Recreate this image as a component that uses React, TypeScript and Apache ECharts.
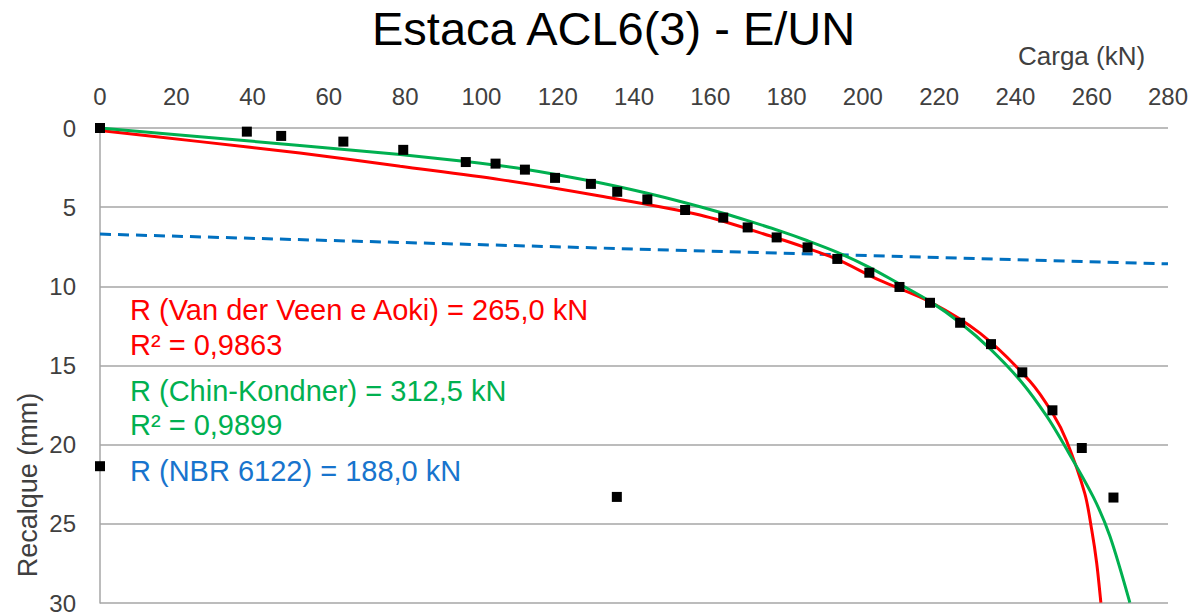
import React, { useEffect, useRef } from "react";
import * as echarts from "echarts";

const xTicks = [0, 20, 40, 60, 80, 100, 120, 140, 160, 180, 200, 220, 240, 260, 280];
const yTicks = [0, 5, 10, 15, 20, 25, 30];

// Measured load test points [carga kN, recalque mm]
const ensaio: [number, number][] = [
  [0, 0], [38.5, 0.23], [47.5, 0.5], [63.8, 0.86], [79.5, 1.38], [95.9, 2.15],
  [103.7, 2.25], [111.4, 2.63], [119.3, 3.15], [128.7, 3.53], [135.6, 4.03],
  [143.5, 4.51], [153.4, 5.18], [163.4, 5.66], [169.8, 6.28], [177.4, 6.91],
  [185.5, 7.54], [193.3, 8.27], [201.7, 9.14], [209.6, 10.04], [217.6, 11.04],
  [225.5, 12.3], [233.6, 13.65], [241.8, 15.43], [249.7, 17.83], [257.4, 20.21],
  [265.7, 23.34], [0, 21.36], [135.5, 23.3],
];

// Van der Veen e Aoki curve
const vanDerVeen: [number, number][] = [
  [0, 0.16], [26.2, 0.86], [52.4, 1.58], [78.7, 2.42], [104.9, 3.26], [131.1, 4.3],
  [157.3, 5.5], [177.4, 6.95], [185.5, 7.6], [193.3, 8.3], [204.5, 9.63],
  [217.6, 10.98], [230.7, 12.96], [243.8, 15.99], [249.9, 18.08], [253.4, 19.75],
  [258.2, 23.09], [260.0, 25.38], [261.3, 27.47], [262.4, 29.98],
];

// Chin-Kondner curve
const chinKondner: [number, number][] = [
  [0, 0], [26.2, 0.55], [52.4, 1.1], [78.7, 1.68], [95.9, 2.12], [111.4, 2.6],
  [128.7, 3.35], [143.5, 4.12], [153.4, 4.72], [163.4, 5.38], [169.8, 5.85],
  [178.2, 6.5], [185.5, 7.12], [193.3, 7.85], [201.7, 8.8], [209.6, 9.85],
  [217.6, 10.95], [225.5, 12.3], [233.6, 14.0], [241.8, 16.1], [248.2, 18.2],
  [252.5, 19.9], [260.4, 23.3], [264.8, 25.8], [270.0, 29.98],
];

// NBR 6122 line
const nbr6122: [number, number][] = [[0, 6.7], [280, 8.58]];

const labels = [
  { text: "R (Van der Veen e Aoki) = 265,0 kN", color: "#ff0000", y: 310 },
  { text: "R² = 0,9863", color: "#ff0000", y: 345 },
  { text: "R (Chin-Kondner) = 312,5 kN", color: "#00b050", y: 391 },
  { text: "R² = 0,9899", color: "#00b050", y: 425 },
  { text: "R (NBR 6122) = 188,0 kN", color: "#1874cd", y: 471 },
];

const FONT = "'Liberation Sans', Arial, sans-serif";

export default function App() {
  const ref = useRef<HTMLDivElement>(null);
  useEffect(() => {
    if (!ref.current) return;
    const chart = echarts.init(ref.current, undefined, { renderer: "svg" });
    chart.setOption({
      animation: false,
      backgroundColor: "#ffffff",
      textStyle: { fontFamily: FONT },
      title: {
        text: "Estaca ACL6(3) - E/UN",
        left: 367,
        top: 0,
        textStyle: { fontSize: 47, fontWeight: "normal", color: "#000", fontFamily: FONT },
      },
      grid: { left: 100, top: 128, right: 27, bottom: 8, containLabel: false },
      xAxis: {
        type: "value",
        position: "top",
        min: xTicks[0],
        max: xTicks[xTicks.length - 1],
        interval: 20,
        axisLine: { show: false },
        axisTick: { show: false },
        splitLine: { show: false },
        axisLabel: { fontSize: 24, color: "#404040", margin: 20, fontFamily: FONT },
      },
      yAxis: {
        type: "value",
        inverse: true,
        min: yTicks[0],
        max: yTicks[yTicks.length - 1],
        interval: 5,
        axisLine: { show: true, lineStyle: { color: "#a6a6a6", width: 1.5 } },
        axisTick: { show: false },
        splitLine: { show: true, lineStyle: { color: "#a6a6a6", width: 1.5 } },
        axisLabel: { fontSize: 24, color: "#404040", margin: 24, fontFamily: FONT },
      },
      series: [
        {
          type: "line",
          data: nbr6122,
          showSymbol: false,
          lineStyle: { color: "#0070c0", width: 3, type: [11, 7] },
          z: 2,
        },
        {
          type: "line",
          data: vanDerVeen,
          smooth: 0.3,
          showSymbol: false,
          lineStyle: { color: "#ff0000", width: 3 },
          z: 3,
        },
        {
          type: "line",
          data: chinKondner,
          smooth: 0.3,
          showSymbol: false,
          lineStyle: { color: "#00b050", width: 3 },
          z: 4,
        },
        {
          type: "scatter",
          data: ensaio,
          symbol: "rect",
          symbolSize: 10,
          clip: false,
          itemStyle: { color: "#000000", opacity: 1 },
          z: 5,
        },
      ],
      graphic: [
        {
          type: "text",
          left: 1018,
          top: 43,
          style: { text: "Carga (kN)", fontSize: 26, fill: "#404040", fontFamily: FONT },
        },
        {
          type: "text",
          x: 28,
          y: 485,
          rotation: Math.PI / 2,
          style: {
            text: "Recalque (mm)",
            fontSize: 27,
            fill: "#404040",
            fontFamily: FONT,
            align: "center",
            verticalAlign: "middle",
          },
        },
        ...labels.map((l) => ({
          type: "text",
          x: 130,
          y: l.y,
          style: {
            text: l.text,
            fontSize: 29,
            fill: l.color,
            fontFamily: FONT,
            align: "left",
            verticalAlign: "middle",
          },
        })),
      ],
    });
    return () => chart.dispose();
  }, []);
  return (
    <div
      ref={ref}
      style={{ position: "fixed", left: 0, top: 0, width: 1195, height: 615 }}
    />
  );
}
